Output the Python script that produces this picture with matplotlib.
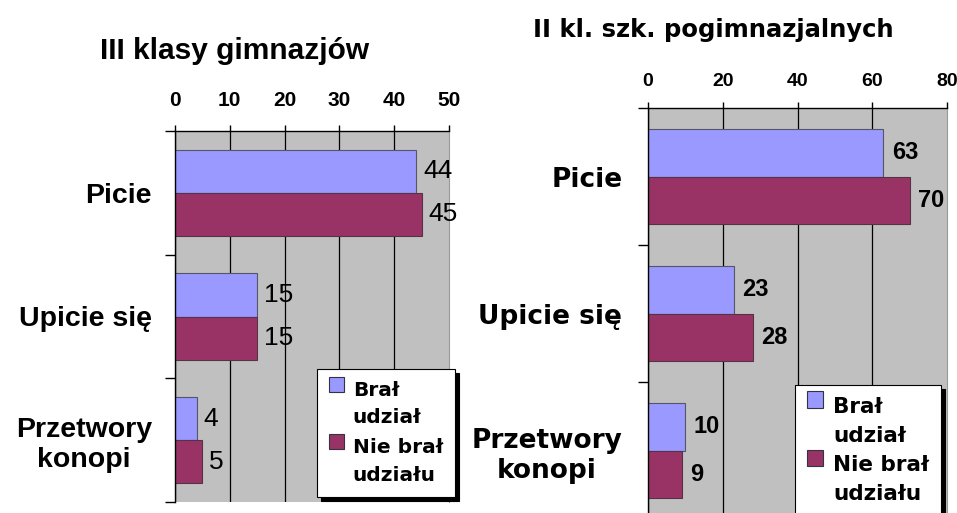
import matplotlib
matplotlib.use('Agg')
import matplotlib.pyplot as plt
from matplotlib.patches import Rectangle
from matplotlib.legend_handler import HandlerPatch
import numpy as np

# ---------------- data ----------------
categories = ['Picie', 'Upicie się', 'Przetwory\nkonopi']
series_names = ['Brał\nudział', 'Nie brał\nudziału']
gim_bral = [44, 15, 4]
gim_nie = [45, 15, 5]
pog_bral = [63, 23, 10]
pog_nie = [70, 28, 9]
gim_ticks = [0, 10, 20, 30, 40, 50]
pog_ticks = [0, 20, 40, 60, 80]
titles = ['III klasy gimnazjów', 'II kl. szk. pogimnazjalnych']

BLUE = '#9999FF'
RED = '#993366'
GRAY = '#C0C0C0'

W, H = 957, 513
fig = plt.figure(figsize=(W / 100, H / 100), dpi=100)
fig.patch.set_facecolor('white')


class TopSquare(HandlerPatch):
    def __init__(self, size, lift):
        super().__init__()
        self.size = size
        self.lift = lift

    def create_artists(self, legend, orig_handle, xdescent, ydescent,
                       width, height, fontsize, trans):
        src = orig_handle.patches[0] if hasattr(orig_handle, 'patches') else orig_handle
        s = self.size * fontsize
        p = Rectangle((-xdescent, -ydescent + self.lift * fontsize), s, s,
                      facecolor=src.get_facecolor(),
                      edgecolor='#333344', lw=0.8, transform=trans)
        return [p]


def panel(rect_px, bral, nie, ticks, cfg):
    l, t, r, b = rect_px
    ax = fig.add_axes([l / W, 1 - b / H, (r - l) / W, (b - t) / H])
    y = np.arange(len(categories))
    h = 0.35
    c1 = ax.barh(y - h / 2, bral, height=h, color=BLUE, edgecolor='#55556a',
                 lw=0.8, label=series_names[0])
    c2 = ax.barh(y + h / 2, nie, height=h, color=RED, edgecolor='#553344',
                 lw=0.8, label=series_names[1])
    ax.set_ylim(len(categories) - 0.5, -0.5)
    ax.set_xlim(0, ticks[-1])
    ax.set_facecolor(GRAY)
    ax.xaxis.tick_top()
    ax.set_xticks(ticks)
    ax.set_xticklabels([str(v) for v in ticks], fontfamily='Liberation Sans',
                       fontweight='bold', fontsize=cfg['xtick_fs'])
    ax.tick_params(axis='x', which='major', direction='out', length=4.5,
                   width=1, pad=cfg['xpad'], top=True, bottom=False,
                   labeltop=True, labelbottom=False)
    ax.set_yticks(y)
    ax.set_yticklabels(categories, fontfamily=cfg['cat_font'], fontweight='bold',
                       fontsize=cfg['cat_fs'], ha='right', multialignment='center')
    ax.set_yticks(np.arange(-0.5, len(categories), 1.0), minor=True)
    ax.tick_params(axis='y', which='major', length=0, pad=cfg['ypad'])
    ax.tick_params(axis='y', which='minor', length=7.5, width=1, direction='out')
    ax.grid(axis='x', which='major', color='black', lw=0.9)
    ax.set_axisbelow(True)
    for tk in ax.xaxis.get_major_ticks():
        if tk.get_loc() == ticks[-1]:
            tk.gridline.set_visible(False)
    ax.spines['left'].set_color('black')
    ax.spines['top'].set_color('black')
    ax.spines['left'].set_linewidth(1)
    ax.spines['top'].set_linewidth(1)
    ax.spines['right'].set_color('#9a9a9a')
    ax.spines['right'].set_linewidth(0.8)
    ax.spines['bottom'].set_visible(False)

    for cont in (c1, c2):
        ax.bar_label(cont, padding=cfg['lab_pad'], fontsize=cfg['lab_fs'],
                     fontweight=cfg['lab_w'], fontfamily='Liberation Sans')

    hl = TopSquare(cfg['sq'], cfg['lift'])
    leg = ax.legend(handles=[c1, c2], labels=series_names, loc='upper left',
                    bbox_to_anchor=(cfg['leg_x'] / W, 1 - cfg['leg_y'] / H),
                    bbox_transform=fig.transFigure, borderaxespad=0,
                    fancybox=False, framealpha=1, edgecolor='black',
                    shadow={'ox': 3, 'oy': -3, 'facecolor': 'black',
                            'edgecolor': 'black', 'alpha': 1},
                    prop={'family': 'DejaVu Sans', 'weight': 'bold',
                          'size': cfg['leg_fs']},
                    handlelength=cfg['sq'], handletextpad=0.45,
                    labelspacing=cfg['lsp'], borderpad=cfg['bpad'],
                    handler_map={c1: hl, c2: hl})
    leg.get_frame().set_linewidth(0.8)
    for tx in leg.get_texts():
        tx.set_linespacing(1.55)
    return ax


panel((175, 131, 449, 502), gim_bral, gim_nie, gim_ticks,
      dict(xtick_fs=15, xpad=10.5, cat_font='Liberation Sans', cat_fs=20.5,
           ypad=16.5, lab_pad=5, lab_fs=19, lab_w='normal', sq=0.72, lift=1.0,
           leg_x=317, leg_y=369, leg_fs=14.5, lsp=0.55, bpad=0.6))
panel((648, 108, 947, 519), pog_bral, pog_nie, pog_ticks,
      dict(xtick_fs=14, xpad=8.5, cat_font='DejaVu Sans', cat_fs=19,
           ypad=18.5, lab_pad=6, lab_fs=17, lab_w='bold', sq=0.76, lift=1.0,
           leg_x=795, leg_y=385, leg_fs=15.5, lsp=0.45, bpad=0.55))

fig.text(235 / W, 1 - 59 / H, titles[0], ha='center', va='baseline',
         fontfamily='Liberation Sans', fontweight='bold', fontsize=21.5)
fig.text(713 / W, 1 - 37 / H, titles[1], ha='center', va='baseline',
         fontfamily='DejaVu Sans', fontweight='bold', fontsize=17.5)

fig.savefig('out.png', dpi=100, facecolor='white')
